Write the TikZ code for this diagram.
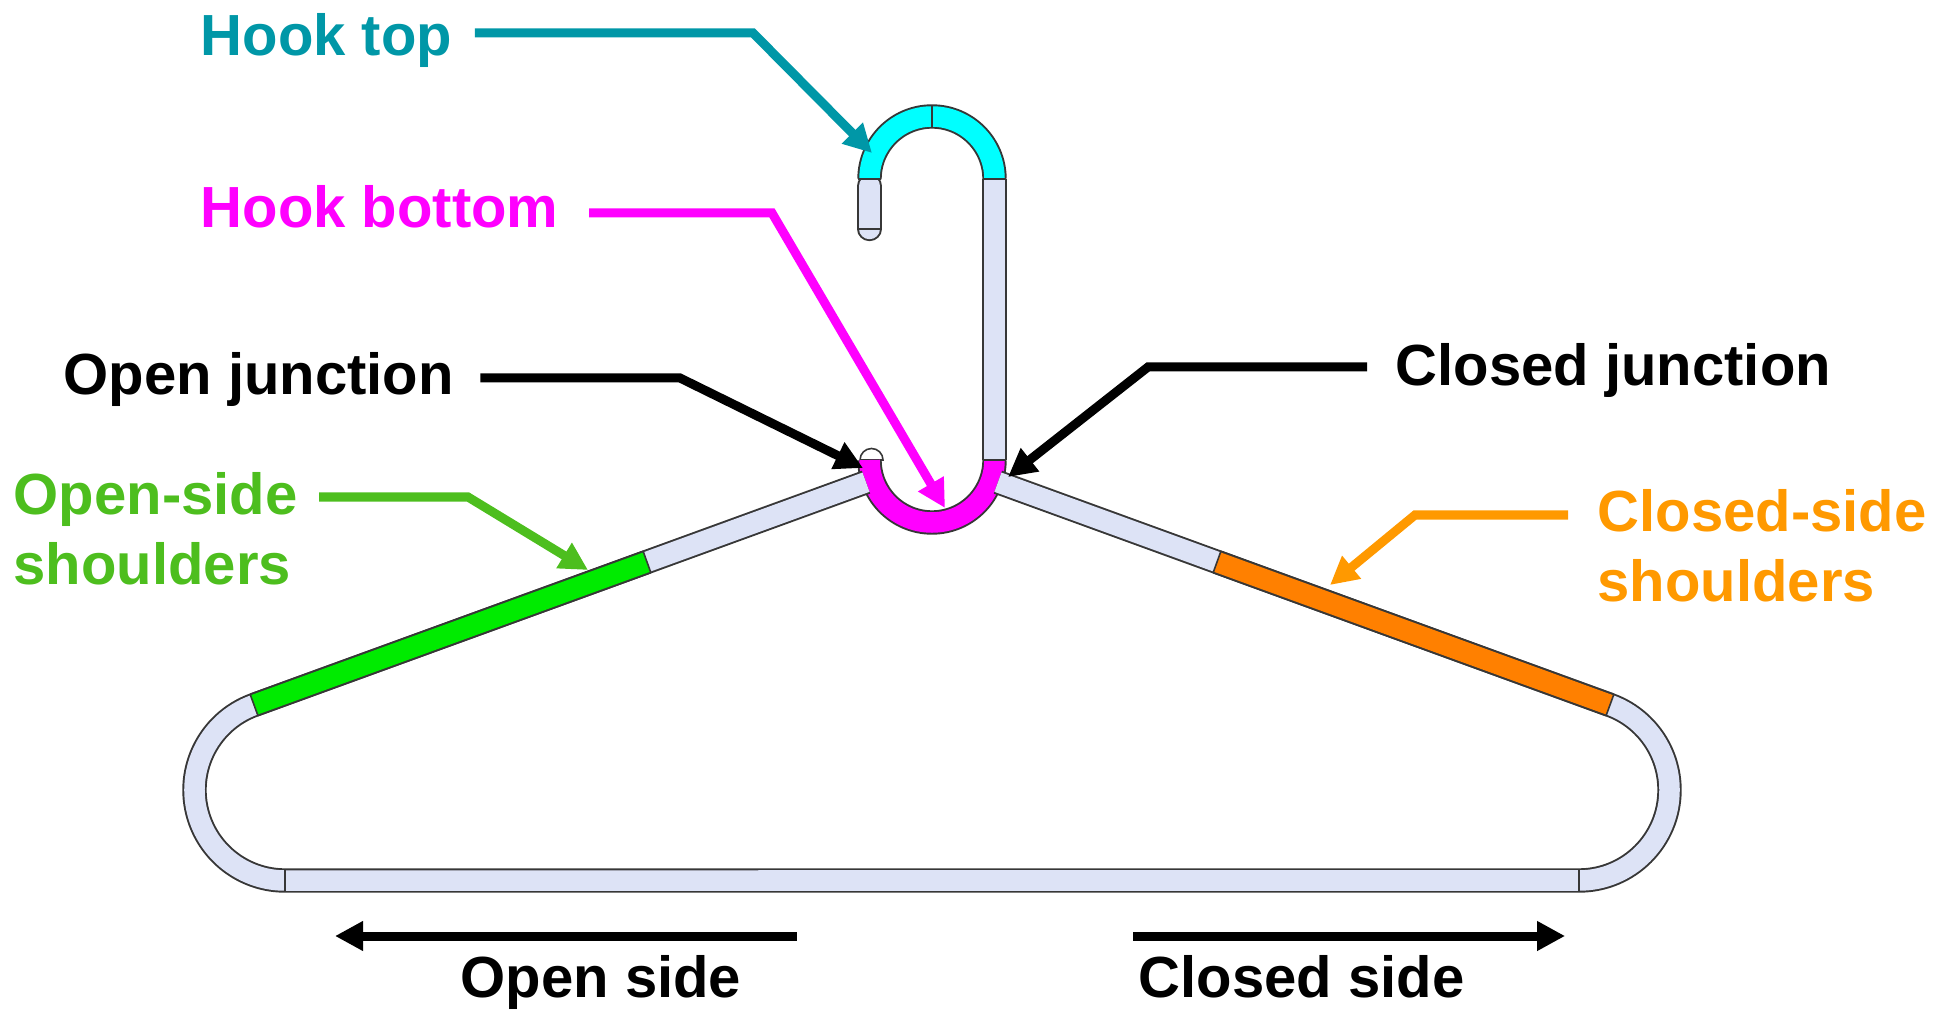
\documentclass[tikz,border=0pt]{standalone}
\usepackage{fontspec}
\setmainfont{Liberation Sans}
\usetikzlibrary{arrows.meta,calc}

\definecolor{wirefill}{RGB}{221,227,246}
\definecolor{wireedge}{RGB}{55,55,55}
\definecolor{hooktopc}{RGB}{0,151,167}
\definecolor{cyanfill}{RGB}{0,255,255}
\definecolor{magentac}{RGB}{255,0,255}
\definecolor{greenlab}{RGB}{77,190,30}
\definecolor{greenfill}{RGB}{0,235,0}
\definecolor{orangelab}{RGB}{255,153,0}
\definecolor{orangefill}{RGB}{255,128,0}

\tikzset{
  wire/.style={draw=wireedge, line width=0.55pt, double=wirefill, double distance=0.205cm},
  seg/.style={wire, double=#1},
  sepline/.style={draw=wireedge, line width=0.45pt},
  lbl/.style={font=\fontsize{16.5pt}{20pt}\selectfont\bfseries, inner sep=0pt, anchor=base west},
  callout/.style={line width=0.09cm, line join=miter, -{Triangle[length=0.28cm,width=0.28cm]}},
}

\begin{document}
\begin{tikzpicture}[x=0.01cm, y=-0.01cm]
\useasboundingbox (0,0) rectangle (1952,1010);

% ---- hanger wire ----
% hook shank and open hook end
\draw[wire] (994.5,179) -- (994.5,460);
\draw[wire, line cap=round] (869.5,186) -- (869.5,229);
% hook top
\draw[seg=cyanfill] (869.5,179) arc[start angle=180, end angle=360, radius=62.5];
% small cap at the open junction
\draw[sepline, fill=white] (860,460) arc[start angle=180, end angle=360, radius=11.5] -- cycle;
% hook bottom
\draw[seg=magentac] (869.5,460) arc[start angle=180, end angle=0, radius=62.5];
% shoulders, end loops and bottom bar (their ends tuck into the hook bottom)
\draw[wire] (866,482.2) -- (254.05,704.96)
  arc[start angle=250, end angle=90, radius=90.5] -- (1579,880.5)
  arc[start angle=90, end angle=-70, radius=90.5] -- (997.9,482.2);
% coloured shoulder sections
\draw[seg=greenfill] (254.05,704.96) -- (647,562);
\draw[seg=orangefill] (1609.95,704.96) -- (1217,562);

% section boundaries
\draw[sepline] (932,105.5) -- (932,128.5);
\draw[sepline] (858,179) -- (881,179);
\draw[sepline] (983,179) -- (1006,179);
\draw[sepline] (858,229) -- (881,229);
\draw[sepline] (983,460) -- (1006,460);
\draw[sepline] (285,869) -- (285,892);
\draw[sepline] (1579,869) -- (1579,892);
\draw[sepline] (643.1,551.2) -- (650.9,572.8);
\draw[sepline] (250.1,694.2) -- (258.0,715.8);
\draw[sepline] (1220.9,551.2) -- (1213.1,572.8);
\draw[sepline] (1613.9,694.2) -- (1606.0,715.8);

% ---- labels and callouts ----
\node[lbl, text=hooktopc] (ht) at (200,56) {Hook top};
\coordinate (htTip) at (872,153);
\draw[callout, hooktopc] ($(ht.base east)+(22,-23)$) -- (753,33) -- (htTip);

\node[lbl, text=magentac] (hb) at (200,228) {Hook bottom};
\coordinate (hbTip) at (945,508);
\draw[callout, magentac] ($(hb.base east)+(30,-15)$) -- (772,213) -- (hbTip);

\node[lbl] (oj) at (63,395) {Open junction};
\coordinate (ojTip) at (863,468);
\draw[callout] ($(oj.base east)+(26,-17)$) -- (680,378) -- (ojTip);

\node[lbl] (cj) at (1395,386) {Closed junction};
\coordinate (cjTip) at (1008,477);
\draw[callout] ($(cj.base west)+(-28,-19)$) -- (1148,367) -- (cjTip);

\node[lbl, text=greenlab] (os1) at (13,515) {Open-side};
\node[lbl, text=greenlab] (os2) at (13,585) {shoulders};
\coordinate (osTip) at (588,570);
\draw[callout, greenlab] ($(os1.base east)+(21,-18)$) -- (468,497) -- (osTip);

\node[lbl, text=orangelab] (cs1) at (1597,532) {Closed-side};
\node[lbl, text=orangelab] (cs2) at (1597,602) {shoulders};
\coordinate (csTip) at (1330,585);
\draw[callout, orangelab] ($(cs1.base west)+(-29,-17)$) -- (1415,515) -- (csTip);

\node[lbl] (osd) at (460,997) {Open side};
\draw[callout] ($(osd.base east)+(55,-61)$) -- ($(osd.base west)+(-125,-61)$);

\node[lbl] (csd) at (1138,997) {Closed side};
\draw[callout] ($(csd.base west)+(-5,-61)$) -- ($(csd.base east)+(100,-61)$);
\end{tikzpicture}
\end{document}
